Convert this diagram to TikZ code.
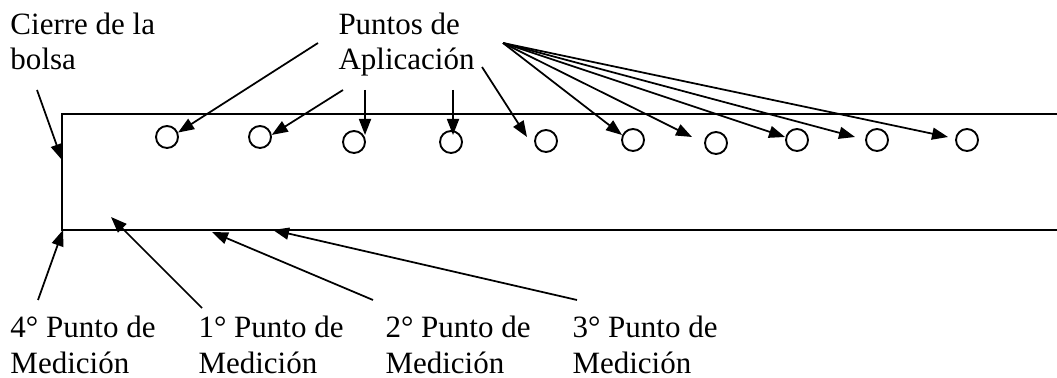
\documentclass[tikz,border=0pt]{standalone}
\usepackage{fontspec}
\setmainfont{Liberation Serif}
\usetikzlibrary{arrows.meta}
\begin{document}
\begin{tikzpicture}[x=0.4pt,y=-0.4pt,
  lbl/.style={anchor=base west,align=left,inner sep=0pt,font=\fontsize{12.4}{14}\selectfont},
  pt/.style={circle,draw,line width=0.75pt,minimum size=8.8pt,inner sep=0pt},
  arr/.style={line width=0.7pt,-{Triangle[length=6.4pt,width=4.8pt]}},
  edge/.style={line width=0.8pt}]
\useasboundingbox (0,0) rectangle (1057,378);
% bag outline
\coordinate (tr) at (1057,114);
\coordinate (tl) at (62,114);
\coordinate (bl) at (62,230);
\coordinate (br) at (1057,230);
\draw[edge] (tr) -- (tl) -- (bl) -- (br);
% circles
\foreach \n/\x/\y in {1/167/137,2/260/137,3/354/142,4/451/142,5/546/141,6/633/140,7/716/143,8/797/140,9/877/140,10/967/140}
  \node[pt] (c\n) at (\x,\y) {};
% labels (anchor = baseline of last line)
\node[lbl] (cierre) at (10,70) {Cierre de la\\bolsa};
\node[lbl] (puntos) at (338,70) {Puntos de\\Aplicación};
\node[lbl] (m4) at (10,373) {4° Punto de\\Medición};
\node[lbl] (m1) at (198,373) {1° Punto de\\Medición};
\node[lbl] (m2) at (385,373) {2° Punto de\\Medición};
\node[lbl] (m3) at (572,373) {3° Punto de\\Medición};
% arrow sources
\coordinate (sc) at (37,90);
\coordinate (s1) at (318,43);
\coordinate (s2) at (343,90);
\coordinate (s3) at (365,90);
\coordinate (s4) at (453,90);
\coordinate (s5) at (482,67);
\coordinate (sf) at (503,43);
\coordinate (s41) at (38,300);
\coordinate (s11) at (202,308);
\coordinate (s21) at (373,300);
\coordinate (s31) at (577,300);
% arrow tips
\coordinate (tc) at (62,160);
\coordinate (t3) at (365,135);
\coordinate (t4) at (453,135);
\coordinate (t5) at (527,137);
\coordinate (t6) at (622,135);
\coordinate (t7) at (692,137);
\coordinate (t8) at (785,137);
\coordinate (t9) at (855,137);
\coordinate (t10) at (948,137);
\coordinate (u4) at (63,230);
\coordinate (u1) at (111,217);
\coordinate (u2) at (212,232);
\coordinate (u3) at (273,230);
% arrows
\draw[arr] (sc) -- (tc);
\draw[arr] (s1) -- (c1.22);
\draw[arr] (s2) -- (c2.10);
\draw[arr] (s3) -- (t3);
\draw[arr] (s4) -- (t4);
\draw[arr] (s5) -- (t5);
\foreach \t in {t6,t7,t8,t9,t10} \draw[arr] (sf) -- (\t);
\draw[arr] (s41) -- (u4);
\draw[arr] (s11) -- (u1);
\draw[arr] (s21) -- (u2);
\draw[arr] (s31) -- (u3);
\end{tikzpicture}
\end{document}
